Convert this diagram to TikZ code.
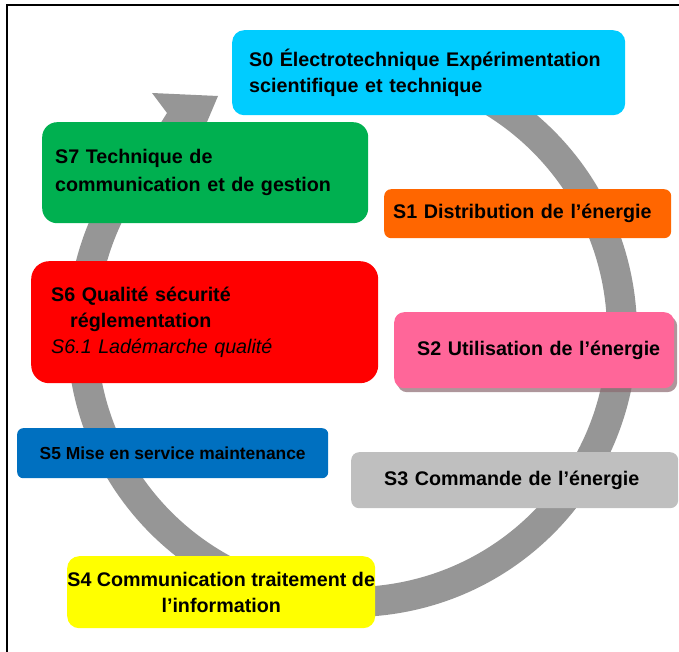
\documentclass[tikz,border=0pt]{standalone}
\usepackage{fontspec}
\setmainfont{Liberation Sans}
\usetikzlibrary{positioning,shadows}
\definecolor{cA}{HTML}{00CCFF}
\definecolor{cB}{HTML}{FF6600}
\definecolor{cC}{HTML}{FF6699}
\definecolor{cD}{HTML}{BFBFBF}
\definecolor{cE}{HTML}{FFFF00}
\definecolor{cF}{HTML}{0070C0}
\definecolor{cG}{HTML}{FF0000}
\definecolor{cH}{HTML}{00B050}
\definecolor{cR}{HTML}{969696}
\definecolor{cS}{HTML}{8C6A70}
\tikzset{
  box/.style={anchor=north west,inner ysep=0pt,align=left,
              font=\fontsize{19.7}{26}\selectfont\bfseries},
  ring/.style={line width=30pt,cR},
  frame/.style={line width=2.5pt,black},
  shade/.style={drop shadow={shadow xshift=3pt,shadow yshift=-4pt,
              fill=cS,opacity=.7}},
}

\begin{document}
\begin{tikzpicture}[x=1pt,y=-1pt]
  \useasboundingbox (0,0) rectangle (679,652);
  \draw[frame] (7,652) -- (7,5) -- (679,5);
  % cycle arrow
  \coordinate (ctr) at (352,332);
  \draw[ring] (ctr) ++(-100:270) arc[start angle=-100,end angle=220,radius=270];
  \fill[cR] (150,140) -- (167,113) -- (152,93) -- (218,96) -- (207,122) -- (205,140) -- cycle;
  % modules
  \node[box,fill=cA,rounded corners=12pt,minimum width=393pt,minimum height=85pt,
        inner xsep=17pt,text width=359pt] (s0) at (232,30)
        {S0 Électrotechnique Expérimentation\\scientifique et technique};
  \node[box,fill=cH,rounded corners=15pt,minimum width=326pt,minimum height=101pt,
        inner xsep=13pt,text width=300pt,font=\fontsize{19.7}{28}\selectfont\bfseries] (s7) at (42,122)
        {S7 Technique de\\communication et de gestion};
  \node[box,fill=cB,rounded corners=7pt,minimum width=287pt,minimum height=49pt,
        inner xsep=9pt,text width=269pt] (s1) at (384,189)
        {S1 Distribution de l’énergie};
  \node[box,fill=cG,rounded corners=18pt,minimum width=347pt,minimum height=122pt,
        inner xsep=20pt,text width=307pt] (s6) at (31,261)
        {S6 Qualité sécurité\\\hspace*{19pt}réglementation\\{\mdseries\itshape S6.1 Ladémarche qualité}};
  \node[box,shade,fill=cC,rounded corners=10pt,minimum width=280pt,minimum height=76pt,
        inner xsep=14pt,text width=252pt,align=right] (s2) at (394,312)
        {S2 Utilisation de l’énergie};
  \node[box,fill=cF,rounded corners=6pt,minimum width=311pt,minimum height=50pt,
        inner xsep=0pt,align=center,font=\fontsize{17.4}{22}\selectfont\bfseries] (s5) at (17,428)
        {S5 Mise en service maintenance};
  \node[box,fill=cD,rounded corners=8pt,minimum width=327pt,minimum height=56pt,
        inner xsep=33pt,text width=261pt] (s3) at (351,452)
        {S3 Commande de l’énergie};
  \node[box,fill=cE,rounded corners=12pt,minimum width=308pt,minimum height=72pt,
        inner xsep=0pt,align=center] (s4) at (67,556)
        {S4 Communication traitement de\\l’information};
\end{tikzpicture}
\end{document}
